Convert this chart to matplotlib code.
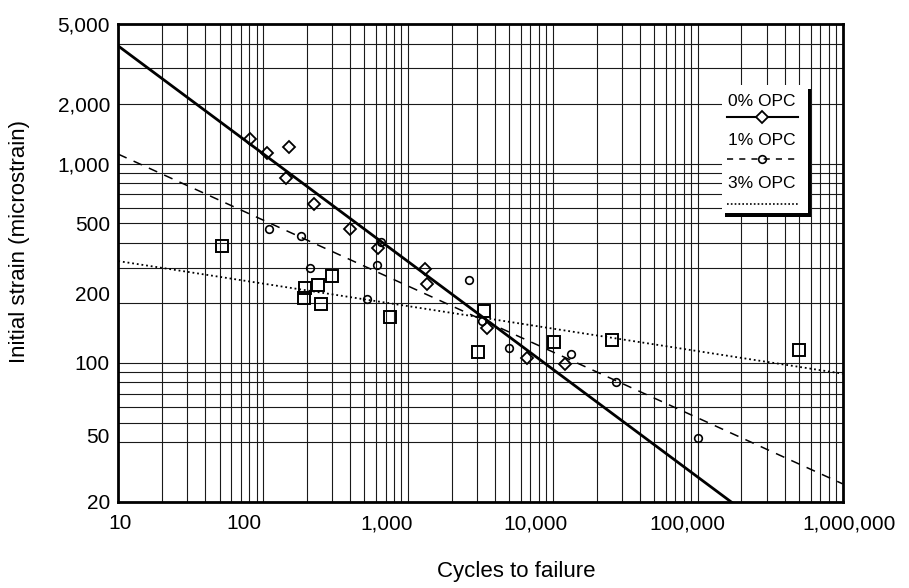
import numpy as np
import matplotlib
matplotlib.use("Agg")
import matplotlib.pyplot as plt
import matplotlib.transforms as mtransforms
from matplotlib.ticker import FixedLocator, NullFormatter
from matplotlib.patches import Rectangle

plt.rcParams['font.family'] = ['Liberation Sans', 'DejaVu Sans']

# data (cycles, microstrain)
cycles_0 = [81, 107, 151, 144, 225, 399, 620, 1302, 1349, 3484, 6577, 12100]
strain_0 = [1321, 1132, 1213, 848, 623, 470, 377, 297, 248, 150, 106, 99]

cycles_1 = [109, 182, 209, 653, 612, 522, 2642, 3221, 4966, 13250, 27200, 99800]
strain_1 = [468, 431, 299, 404, 310, 208, 259, 162, 119, 110, 80, 42]

cycles_3 = [52, 194, 191, 240, 300, 250, 750, 3357, 3020, 10160, 25400, 501000]
strain_3 = [385, 237, 211, 247, 272, 198, 170, 181, 113, 127, 130, 116]

# fitted lines: strain = A * N^b
fit_A = [13520, 2388, 420]
fit_b = [-0.541, -0.331, -0.113]

x_ticks = [10, 100, 1000, 10000, 100000, 1000000]
x_labels = ['10', '100', '1,000', '10,000', '100,000', '1,000,000']
y_ticks = [20, 50, 100, 200, 500, 1000, 2000, 5000]
y_labels = ['20', '50', '100', '200', '500', '1,000', '2,000', '5,000']
y_minor = [40, 60, 70, 80, 90, 300, 400, 600, 700, 800, 900, 3000, 4000]
x_minor = [m * 10 ** d for d in range(1, 6) for m in range(2, 10)]

fig = plt.figure(figsize=(9.09, 5.88), dpi=100)
ax = fig.add_axes([0.1301, 0.1463, 0.7969, 0.8124])
ax.set_xscale('log')
ax.set_yscale('log')
ax.set_xlim(10, 1e6)
ax.set_ylim(20, 5000)

ax.xaxis.set_major_locator(FixedLocator(x_ticks))
ax.xaxis.set_minor_locator(FixedLocator(x_minor))
ax.yaxis.set_major_locator(FixedLocator(y_ticks))
ax.yaxis.set_minor_locator(FixedLocator(y_minor))
ax.set_xticklabels(x_labels)
ax.set_yticklabels(y_labels)
ax.xaxis.set_minor_formatter(NullFormatter())
ax.yaxis.set_minor_formatter(NullFormatter())
ax.tick_params(which='both', length=0, labelsize=15)
ax.tick_params(axis='x', pad=9)
ax.tick_params(axis='y', pad=6)
ax.grid(True, which='both', color='#1a1a1a', lw=0.8)
ax.set_axisbelow(True)
for s in ax.spines.values():
    s.set_linewidth(2)

# the printed labels sit a little off their grid lines (pixel shifts)
x_shift = [2, -19, -21, -17, -10, 6]
y_shift = [0, -13, 0, 9, 0, 0, 0, 0]
for t, dx in zip(ax.xaxis.get_major_ticks(), x_shift):
    t.label1.set_transform(t.label1.get_transform() +
                           mtransforms.ScaledTranslation(dx / 100, 0, fig.dpi_scale_trans))
for t, dy in zip(ax.yaxis.get_major_ticks(), y_shift):
    t.label1.set_transform(t.label1.get_transform() +
                           mtransforms.ScaledTranslation(0, dy / 100, fig.dpi_scale_trans))

nn = np.logspace(1, 6, 300)
ax.plot(nn, fit_A[0] * nn ** fit_b[0], color='k', lw=2.0, zorder=3)
ax.plot(nn, fit_A[1] * nn ** fit_b[1], color='k', lw=1.1, ls=(0, (6, 5)), zorder=3)
ax.plot(nn, fit_A[2] * nn ** fit_b[2], color='k', lw=1.3, ls=(0, (1, 1.6)), zorder=3)

ax.plot(cycles_0, strain_0, ls='none', marker='D', ms=6.5, mfc='none', mec='k', mew=1.3, zorder=4)
ax.plot(cycles_1, strain_1, ls='none', marker='o', ms=5.5, mfc='none', mec='k', mew=1.2, zorder=4)
ax.plot(cycles_3, strain_3, ls='none', marker='s', ms=8, mfc='none', mec='k', mew=1.4, zorder=4)

ax.set_xlabel('Cycles to failure', fontsize=16)
ax.xaxis.set_label_coords(0.549, -0.124)
ax.set_ylabel('Initial strain (microstrain)', fontsize=16)
ax.yaxis.set_label_coords(-0.122, 0.545)

# legend box with black shadow
lx0, ly0, lw_, lh = 0.8334, 0.605, 0.1188, 0.268
ax.add_patch(Rectangle((lx0 + 0.0045, ly0 - 0.008), lw_, lh, transform=ax.transAxes,
                       facecolor='k', edgecolor='none', zorder=5, clip_on=False))
leg = ax.inset_axes([lx0, ly0, lw_, lh])
leg.set_zorder(6)
leg.set_facecolor('white')
leg.set_xlim(0, 1)
leg.set_ylim(0, 1)
leg.set_xticks([])
leg.set_yticks([])
for s in leg.spines.values():
    s.set_visible(False)

leg.text(0.465, 0.867, '0% OPC', ha='center', va='center', fontsize=12.5)
leg.plot([0.058, 0.884], [0.75, 0.75], color='k', lw=1.5)
leg.plot([0.465], [0.75], marker='D', ms=6, mfc='white', mec='k', mew=1.3)
leg.text(0.465, 0.570, '1% OPC', ha='center', va='center', fontsize=12.5)
leg.plot([0.058, 0.884], [0.422, 0.422], color='k', lw=1.1, ls=(0, (4, 4)))
leg.plot([0.465], [0.422], marker='o', ms=5.5, mfc='none', mec='k', mew=1.2)
leg.text(0.465, 0.234, '3% OPC', ha='center', va='center', fontsize=12.5)
leg.plot([0.058, 0.884], [0.07, 0.07], color='k', lw=1.2, ls=(0, (1, 1.3)))

fig.savefig('out.png', dpi=100)
